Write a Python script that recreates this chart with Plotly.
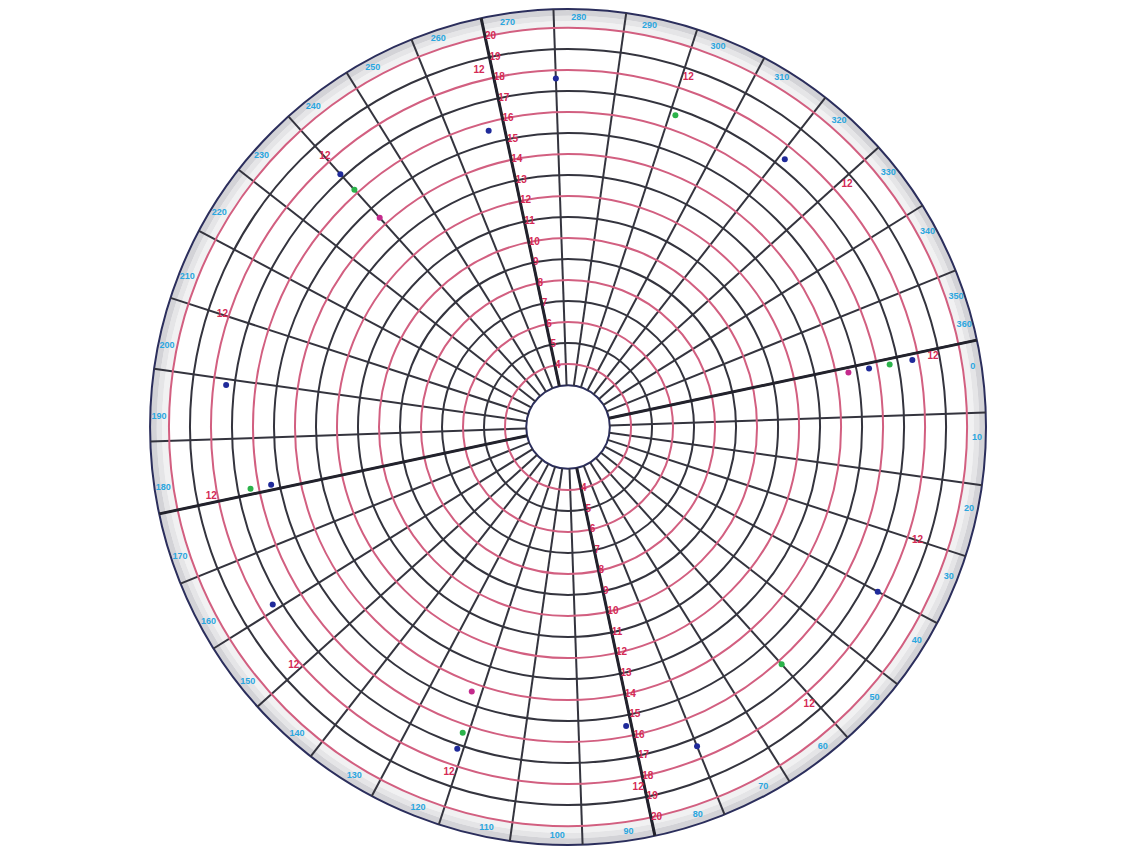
import plotly.graph_objects as go

# chart paper layout values
rings_black = [3, 5, 7, 9, 11, 13, 15, 17, 19]
rings_red = [4, 6, 8, 10, 12, 14, 16, 18, 20]
ring_labels = list(range(4, 21))
degrees = list(range(0, 360, 10))
degree_labels = [str(d) for d in degrees]
bold_spokes = [0, 90, 180, 270]

# red "12" marks
noon_theta = [1, 30, 61, 91, 121, 151, 181, 210, 240, 268, 301, 331]
noon_r = [18.7, 18.5, 18.5, 18.5, 18.4, 18.3, 18.3, 18.3, 18.3, 18.5, 18.6, 18.6]

# pen dots
blue_theta = [280, 267, 321, 240, 199, 181, 161, 121, 91, 80, 40, 1, 1]
blue_r = [17.6, 15.6, 17.4, 17.2, 17.4, 15.4, 17.4, 17.2, 15.5, 17.4, 17.7, 15.6, 17.7]
green_theta = [301, 240, 181, 121, 60, 1]
green_r = [16.7, 16.2, 16.4, 16.4, 16.2, 16.6]
magenta_theta = [240, 122, 1]
magenta_r = [14.4, 14.4, 14.6]

R_MIN, R_MAX = 2.99, 20.9
BAND = 20.03

col_black = '#34343e'
col_red = '#d25f80'
col_num = '#d42a55'
col_blue = '#2aa6df'
col_edge = '#2b2e5c'

fig = go.Figure()

# grey label band just inside the rim (bottom polar), lighter inside, darker at the rim
band_theta = [d + 5 for d in degrees]
band_steps = [(0.0, 0.3, '#f1f1f2'), (0.3, 0.55, '#e5e5e7'), (0.55, R_MAX - BAND, '#d3d3d7')]
for lo, hi, c in band_steps:
    fig.add_trace(go.Barpolar(theta=band_theta, r=[hi - lo] * len(degrees), base=BAND + lo,
                              width=10, marker=dict(color=c, line=dict(width=0)),
                              subplot='polar', hoverinfo='skip'))

# thick spokes
sp_t, sp_r = [], []
for t in bold_spokes:
    sp_t += [t, t, None]
    sp_r += [R_MIN, R_MAX, None]
fig.add_trace(go.Scatterpolar(theta=sp_t, r=sp_r, mode='lines', subplot='polar2',
                              line=dict(color='#22222c', width=3), hoverinfo='skip'))

# ring numbers along 270 and 90 spokes
for t in (270, 90):
    fig.add_trace(go.Scatterpolar(theta=[t] * len(ring_labels), r=ring_labels, mode='text',
                                  text=[str(v) for v in ring_labels], textposition='middle right',
                                  textfont=dict(color=col_num, size=10, family='Liberation Sans',
                                                weight='bold'),
                                  subplot='polar2', hoverinfo='skip'))

# degree labels in the band
fig.add_trace(go.Scatterpolar(theta=[d + 3.5 for d in degrees] + [357.5], r=[20.48] * (len(degrees) + 1),
                              mode='text', text=degree_labels + ['360'],
                              textfont=dict(color=col_blue, size=9, family='Liberation Sans',
                                            weight='bold'),
                              subplot='polar2', hoverinfo='skip'))

# "12" marks
fig.add_trace(go.Scatterpolar(theta=noon_theta, r=noon_r, mode='text', text=['12'] * len(noon_theta),
                              textfont=dict(color=col_num, size=10, family='Liberation Sans',
                                            weight='bold'),
                              subplot='polar2', hoverinfo='skip'))

for th, rr, c in [(blue_theta, blue_r, '#1f2a9a'), (green_theta, green_r, '#2bb34a'),
                  (magenta_theta, magenta_r, '#c42a8c')]:
    fig.add_trace(go.Scatterpolar(theta=th, r=rr, mode='markers', subplot='polar2',
                                  marker=dict(color=c, size=6, symbol='circle'), hoverinfo='skip'))

# the page adds an 8px body margin, so the domain is shifted to compensate
dom = dict(x=[0.1246, 0.8579], y=[0.0211, 0.9988])

fig.update_layout(
    width=1140, height=855, margin=dict(l=0, r=0, t=0, b=0),
    paper_bgcolor='white', showlegend=False,
    polar=dict(
        domain=dom, hole=0.1, bgcolor='white',
        radialaxis=dict(range=[R_MIN, R_MAX], tickvals=rings_black, showticklabels=False,
                        ticks='', showline=False, gridcolor=col_black, gridwidth=1.6),
        angularaxis=dict(rotation=12, direction='clockwise', tickvals=degrees, showticklabels=False,
                         ticks='', showgrid=False, showline=True, linecolor=col_edge, linewidth=2),
    ),
    polar2=dict(
        domain=dom, hole=0.1, bgcolor='rgba(0,0,0,0)',
        radialaxis=dict(range=[R_MIN, R_MAX], tickvals=rings_red, showticklabels=False,
                        ticks='', showline=False, gridcolor=col_red, gridwidth=1.6),
        angularaxis=dict(rotation=12, direction='clockwise', tickvals=degrees, showticklabels=False,
                         ticks='', showgrid=True, gridcolor=col_black, gridwidth=1.6,
                         showline=False),
    ),
)

fig.write_html("out.html")
